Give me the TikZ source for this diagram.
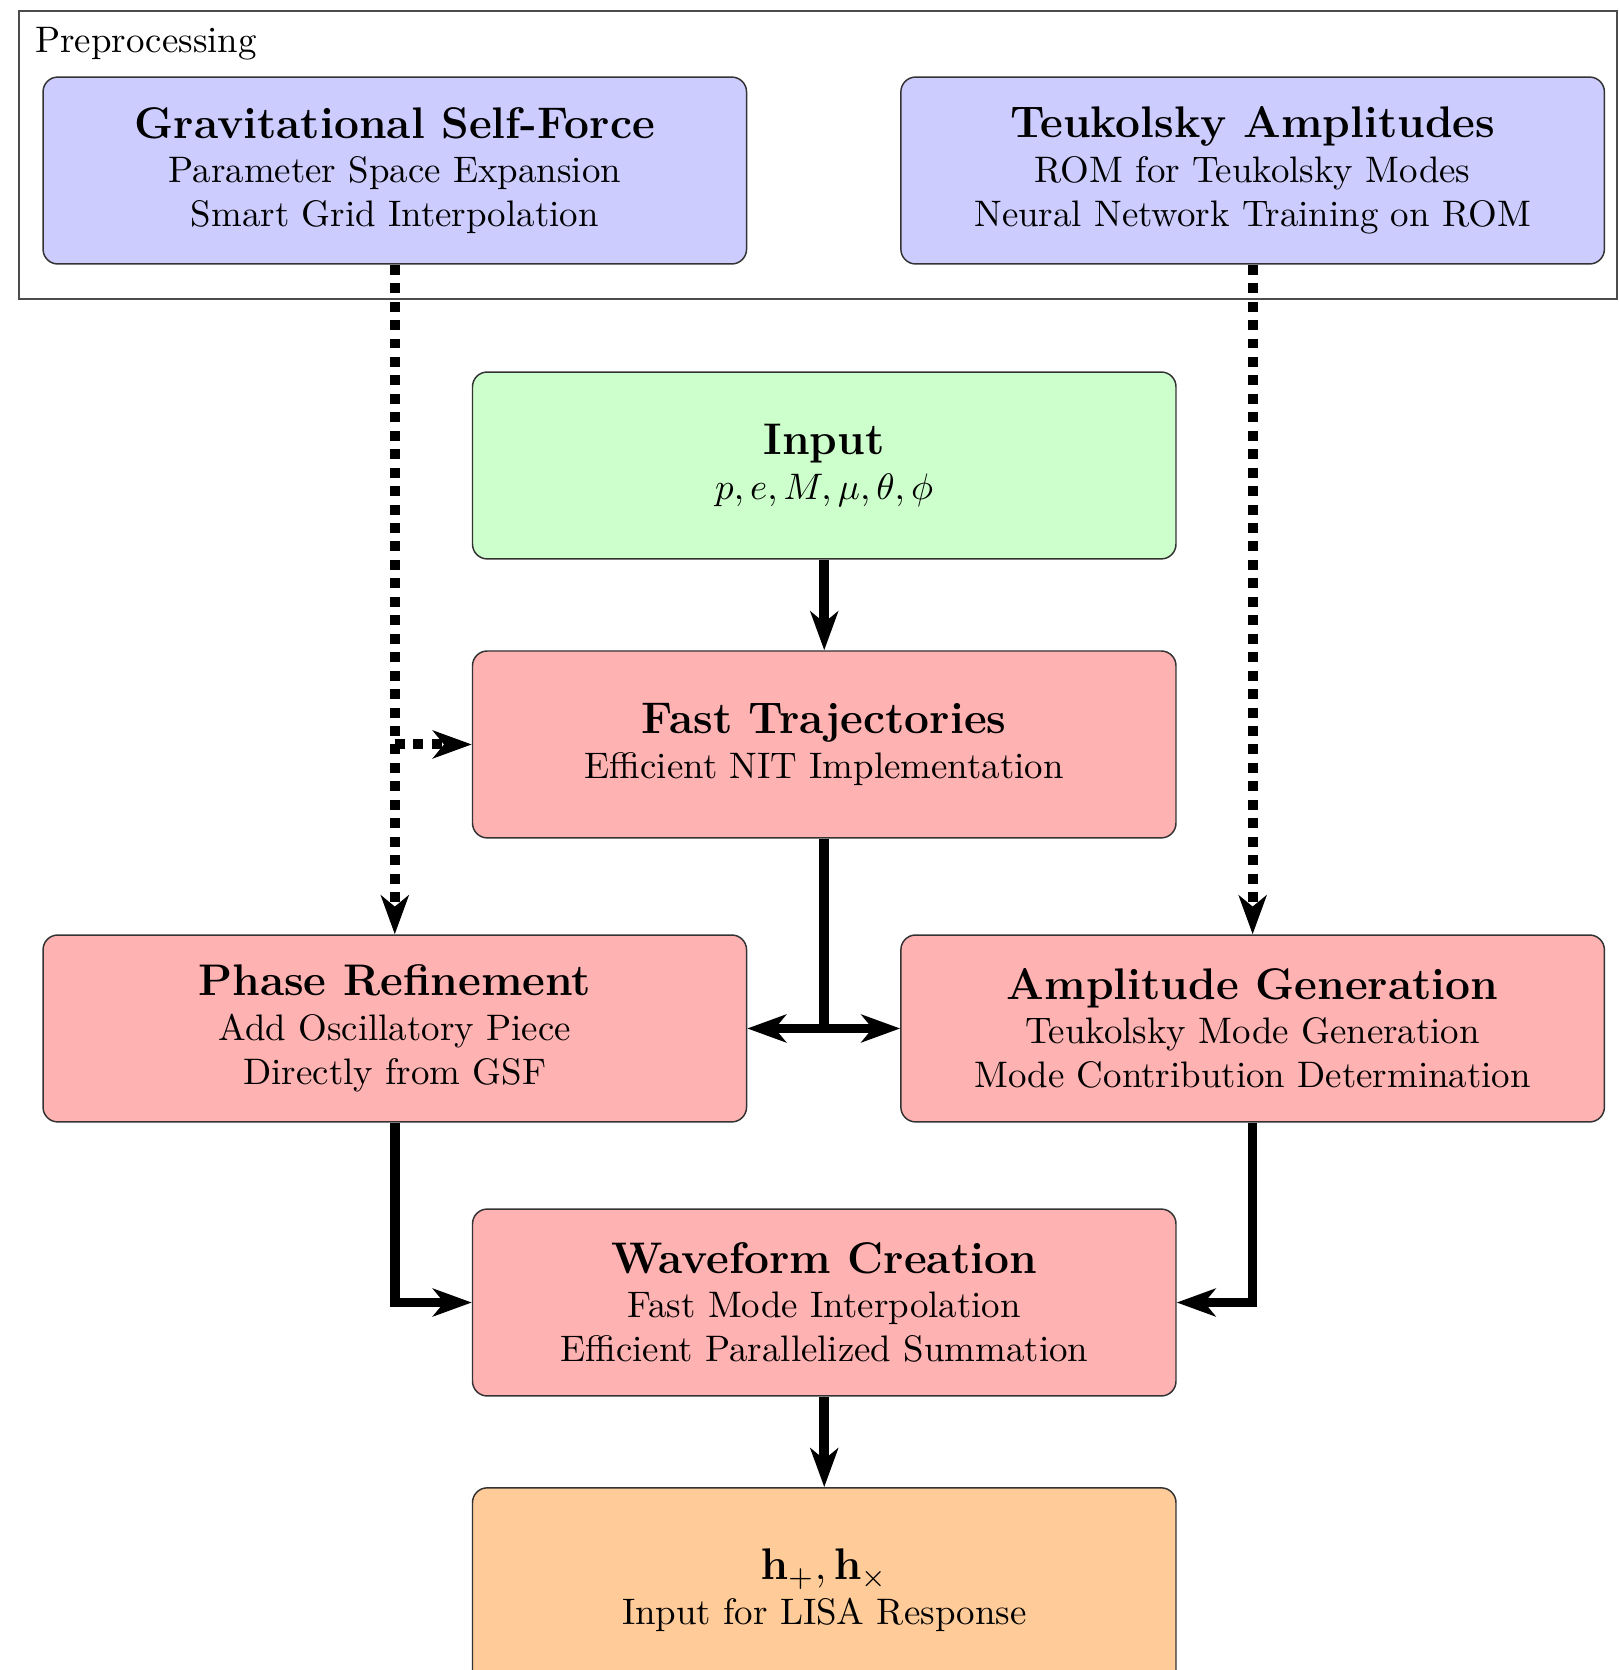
\documentclass[tikz,border=0pt]{standalone}
\usepackage{amsmath,amssymb}
\usepackage{tikz}
\usepackage{xcolor}
\usetikzlibrary{positioning,arrows.meta,calc}

\begin{document}
\begin{tikzpicture}[
  box/.style={draw=black!80, rounded corners=4pt, minimum width=6.7cm, minimum height=1.78cm, align=center, inner sep=2pt},
  title/.style={font=\large\bfseries},
  arr/.style={-{Stealth[length=10.5pt, width=7.5pt, inset=3pt]}, line width=2.6pt},
  seg/.style={line width=2.6pt},
  dotarr/.style={-{Stealth[length=10.5pt, width=7.5pt, inset=3pt]}, line width=2.7pt, dash pattern=on 2.7pt off 2.3pt}
]
\useasboundingbox (0,0) rectangle (15.419,-15.905);

% preprocessing frame
\draw[black!70] (0.18,-0.105) rectangle (15.40,-2.848);
\node[anchor=north west, inner sep=0pt] (pre) at (0.33,-0.25) {Preprocessing};

\node[box, fill=blue!20] (gsf) at (3.76,-1.624) {{\large\bfseries Gravitational Self-Force}\\Parameter Space Expansion\\Smart Grid Interpolation};
\node[box, fill=blue!20] (teuk) at (11.93,-1.624) {{\large\bfseries Teukolsky Amplitudes}\\ROM for Teukolsky Modes\\Neural Network Training on ROM};

\node[box, fill=green!20] (input) at (7.85,-4.433) {{\large\bfseries Input}\\$p, e, M, \mu, \theta, \phi$};
\node[box, fill=red!30] (traj) at (7.85,-7.09) {{\large\bfseries Fast Trajectories}\\Efficient NIT Implementation};
\node[box, fill=red!30] (phase) at (3.76,-9.795) {{\large\bfseries Phase Refinement}\\Add Oscillatory Piece\\Directly from GSF};
\node[box, fill=red!30] (amp) at (11.93,-9.795) {{\large\bfseries Amplitude Generation}\\Teukolsky Mode Generation\\Mode Contribution Determination};
\node[box, fill=red!30] (wave) at (7.85,-12.405) {{\large\bfseries Waveform Creation}\\Fast Mode Interpolation\\Efficient Parallelized Summation};
\node[box, fill=orange!40, minimum height=1.95cm] (out) at (7.85,-15.145) {{\large$\mathbf{h}_+, \mathbf{h}_\times$}\\Input for LISA Response};

% dotted feeds from preprocessing
\draw[dotarr] (gsf) -- (phase);
\draw[dotarr] (teuk) -- (amp);
\coordinate (tap) at (gsf.south |- traj.west);
\draw[dotarr] (tap) -- (traj.west);

% main flow
\draw[arr] (input) -- (traj);
\coordinate (split) at (traj.south |- phase.east);
\draw[seg] (traj) -- (split);
\draw[arr] (split) -- (phase.east);
\draw[arr] (split) -- (amp.west);
\draw[arr] (phase.south) |- (wave.west);
\draw[arr] (amp.south) |- (wave.east);
\draw[arr] (wave) -- (out);
\end{tikzpicture}
\end{document}
